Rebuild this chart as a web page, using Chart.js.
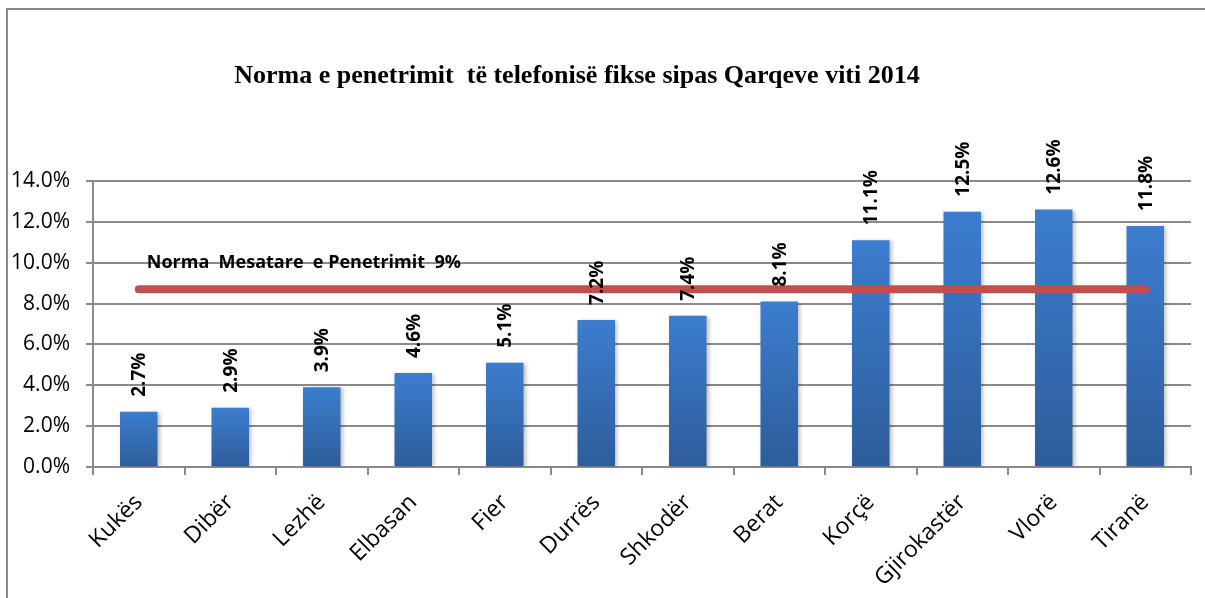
<!DOCTYPE html>
<html>
<head>
<meta charset="utf-8">
<script src="https://cdn.jsdelivr.net/npm/chart.js@4"></script>
<style>
  html, body { margin: 0; padding: 0; background: #fff; overflow: hidden; width: 1205px; height: 598px; }
  #frame {
    position: absolute; left: 6px; top: 8px; width: 1300px; height: 700px;
    border-left: 2px solid #8a8a8a; border-top: 2px solid #8a8a8a;
  }
  #chart1 { position: absolute; left: 0; top: 0; }
</style>
</head>
<body>
<div id="frame"></div>
<canvas id="chart1" width="1205" height="598"></canvas>
<script>
// data
const qarqet = ['Kukës', 'Dibër', 'Lezhë', 'Elbasan', 'Fier', 'Durrës', 'Shkodër', 'Berat', 'Korçë', 'Gjirokastër', 'Vlorë', 'Tiranë'];
const norma = [2.7, 2.9, 3.9, 4.6, 5.1, 7.2, 7.4, 8.1, 11.1, 12.5, 12.6, 11.8];
const mesatarja = [8.7, 8.7, 8.7, 8.7, 8.7, 8.7, 8.7, 8.7, 8.7, 8.7, 8.7, 8.7];
const mesatarjaLabel = 'Norma  Mesatare  e Penetrimit  9%';
const yTicks = [0, 2, 4, 6, 8, 10, 12, 14];
const titulli = 'Norma e penetrimit  të telefonisë fikse sipas Qarqeve viti 2014';

const fontSans = '"Open Sans", "DejaVu Sans", sans-serif';

// bar fill, each bar gets its own top->bottom gradient
function barFill(ctx) {
    const chart = ctx.chart;
    const area = chart.chartArea;
    if (!area || ctx.raw === undefined) return '#3A78C8';
    const top = chart.scales.y.getPixelForValue(ctx.raw);
    const g = chart.ctx.createLinearGradient(0, top, 0, area.bottom);
    g.addColorStop(0, '#3C7DCF');
    g.addColorStop(1, '#2D5D9A');
    return g;
}

// title, rotated value labels and the label of the average line
const extras = {
    id: 'extras',
    beforeDatasetDraw(chart, args) {
        if (args.meta.type === 'bar') {
            const c = chart.ctx;
            c.save();
            c.shadowColor = 'rgba(0,0,0,0.25)';
            c.shadowBlur = 4;
            c.shadowOffsetX = 2;
            c.shadowOffsetY = 1;
        }
    },
    afterDatasetDraw(chart, args) {
        if (args.meta.type === 'bar') chart.ctx.restore();
    },
    afterDatasetsDraw(chart) {
        const c = chart.ctx;
        c.save();
        // title
        c.fillStyle = '#000';
        c.font = 'bold 26px "Liberation Serif", "DejaVu Serif", serif';
        c.textAlign = 'center';
        c.textBaseline = 'middle';
        c.fillText(titulli, 577, 76);

        // value labels over bars
        const barMeta = chart.getDatasetMeta(0);
        c.font = 'bold 19px ' + fontSans;
        barMeta.data.forEach((bar, i) => {
            c.save();
            c.translate(bar.x + 1, bar.y - 15);
            c.rotate(-Math.PI / 2);
            c.textAlign = 'left';
            c.textBaseline = 'middle';
            c.fillText(norma[i].toFixed(1) + '%', 0, 0);
            c.restore();
        });

        // label of the average line
        const lineMeta = chart.getDatasetMeta(1);
        const p0 = lineMeta.data[0];
        c.font = 'bold 18px ' + fontSans;
        c.textAlign = 'left';
        c.textBaseline = 'middle';
        c.fillText(mesatarjaLabel, p0.x + 8, p0.y - 26);
        c.restore();
    }
};

const gridColor = '#8a8a8a';

new Chart(document.getElementById('chart1'), {
    type: 'bar',
    data: {
        labels: qarqet,
        datasets: [{
            label: 'Norma e penetrimit',
            data: norma,
            backgroundColor: barFill,
            borderWidth: 0,
            barPercentage: 0.82,
            categoryPercentage: 0.5,
            order: 2
        }, {
            type: 'line',
            label: mesatarjaLabel,
            data: mesatarja,
            borderColor: '#C0504D',
            borderWidth: 8,
            borderCapStyle: 'round',
            pointRadius: 0,
            fill: false,
            order: 1
        }]
    },
    options: {
        responsive: false,
        animation: false,
        layout: { padding: { top: 181, right: 14, left: 0, bottom: 0 } },
        plugins: {
            legend: { display: false },
            title: { display: false },
            tooltip: { enabled: false }
        },
        scales: {
            x: {
                offset: true,
                grid: { offset: true, drawOnChartArea: false, drawTicks: true, tickLength: 8, color: gridColor, lineWidth: 2 },
                border: { display: true, color: gridColor, width: 2 },
                ticks: {
                    minRotation: 45, maxRotation: 45, autoSkip: false,
                    color: '#000', padding: 14,
                    font: { family: fontSans, size: 23 }
                },
                afterFit(scale) { scale.height = 131; }
            },
            y: {
                min: 0, max: 14,
                afterBuildTicks(scale) { scale.ticks = yTicks.map(v => ({ value: v })); },
                grid: { color: gridColor, lineWidth: 2, tickLength: 7, drawTicks: true },
                border: { display: true, color: gridColor, width: 2 },
                ticks: {
                    color: '#000', padding: 16,
                    font: { family: fontSans, size: 21 },
                    callback: v => v.toFixed(1) + '%'
                },
                afterFit(scale) { scale.width = 93; }
            }
        }
    },
    plugins: [extras]
});
</script>
</body>
</html>
